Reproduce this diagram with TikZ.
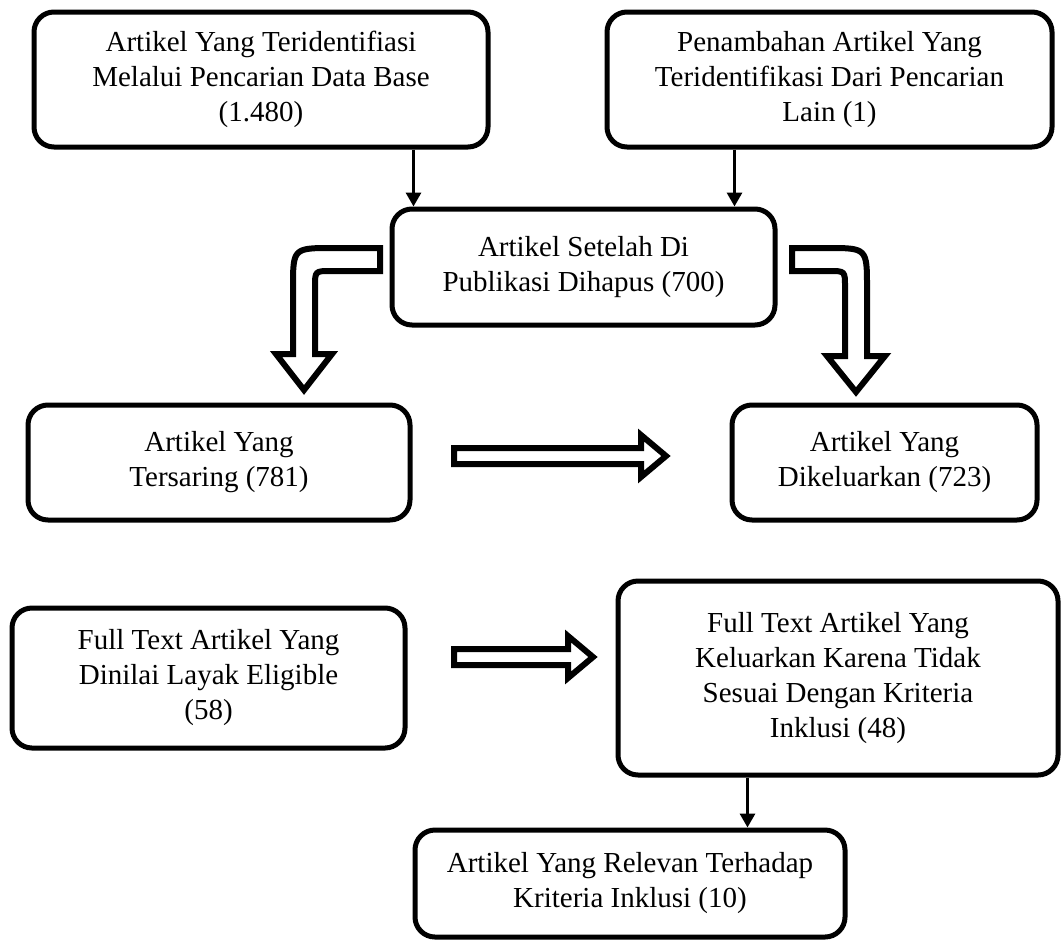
\documentclass[tikz,border=0pt]{standalone}
\usepackage{fontspec}
\setmainfont{Liberation Serif}
\usetikzlibrary{arrows.meta}

\begin{document}
\begin{tikzpicture}[x=0.5pt,y=-0.5pt,
  box/.style={draw,line width=2.5pt,rounded corners=10pt,align=center,inner sep=0pt,
    font=\fontsize{14.5}{17.5}\selectfont},
  arr/.style={line width=1.6pt,-{Triangle[width=7.5pt,length=7pt]}},
  hollow/.style={draw,line width=3pt,fill=white,line join=miter}]
  \useasboundingbox (0,0) rectangle (1064,942);
  % (a) search
  \node[box,minimum width=227pt,minimum height=67.5pt] (ident) at (261,79.5)
    {Artikel Yang Teridentifiasi\\Melalui Pencarian Data Base\\(1.480)};
  \node[box,minimum width=222.5pt,minimum height=67.5pt] (tambah) at (829.5,79.5)
    {Penambahan Artikel Yang\\Teridentifikasi Dari Pencarian\\Lain (1)};
  \node[box,minimum width=191.5pt,minimum height=58pt] (hapus) at (583.5,267)
    {Artikel Setelah Di\\Publikasi Dihapus (700)};
  \draw[arr] ([xshift=12pt]hapus.north west |- ident.south) -- ([xshift=12pt]hapus.north west);
  \draw[arr] ([xshift=-21.5pt]hapus.north east |- tambah.south) -- ([xshift=-21.5pt]hapus.north east);
  % (b) screening
  \node[box,minimum width=191pt,minimum height=57.5pt] (saring) at (219,462.5)
    {Artikel Yang\\Tersaring (781)};
  \node[box,minimum width=152.5pt,minimum height=57.5pt] (keluar) at (884.5,462.5)
    {Artikel Yang\\Dikeluarkan (723)};
  \draw[hollow] (380,248) -- (333,248) .. controls (293,248) .. (293,288) -- (293,354)
    -- (276,354) -- (304,390) -- (332,354) -- (315,354) -- (315,287)
    .. controls (315,271) .. (331,271) -- (380,271) -- cycle;
  \draw[hollow] (792,248) -- (827,248) .. controls (867,248) .. (867,288) -- (867,356)
    -- (885,356) -- (856,392) -- (827,356) -- (845,356) -- (845,287)
    .. controls (845,271) .. (829,271) -- (792,271) -- cycle;
  \draw[hollow] (454,448) -- (641,448) -- (641,435) -- (666,456) -- (641,477)
    -- (641,464) -- (454,464) -- cycle;
  % (c) eligibility
  \node[box,minimum width=196.5pt,minimum height=70pt] (layak) at (208.5,678)
    {Full Text Artikel Yang\\Dinilai Layak Eligible\\(58)};
  \node[box,minimum width=220pt,minimum height=97pt] (tidak) at (838,678)
    {Full Text Artikel Yang\\Keluarkan Karena Tidak\\Sesuai Dengan Kriteria\\Inklusi (48)};
  \draw[hollow] (454,649) -- (568,649) -- (568,636) -- (593,657) -- (568,678)
    -- (568,665) -- (454,665) -- cycle;
  % (d) included
  \node[box,minimum width=215pt,minimum height=53.5pt] (relevan) at (630,883.5)
    {Artikel Yang Relevan Terhadap\\Kriteria Inklusi (10)};
  \draw[arr] ([xshift=-50pt]relevan.north east |- tidak.south) -- ([xshift=-50pt]relevan.north east);
\end{tikzpicture}
\end{document}
